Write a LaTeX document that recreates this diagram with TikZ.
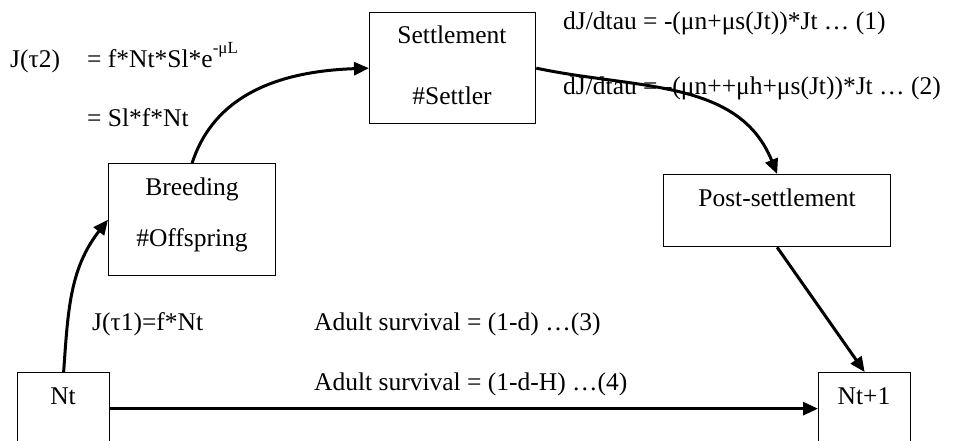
\documentclass[tikz,border=0pt]{standalone}
\usepackage{fontspec}
\setmainfont{Liberation Serif}
\usetikzlibrary{arrows.meta}
\begin{document}
\begin{tikzpicture}[x=1pt,y=-1pt,
  font=\fontsize{25.5}{30}\selectfont,
  box/.style={draw, line width=1.3pt, anchor=north west, inner sep=0pt},
  txt/.style={anchor=base west, inner sep=0pt},
  ctr/.style={anchor=base, inner sep=0pt},
  link/.style={line width=3pt, -{Triangle[length=15pt,width=13pt]}}]
\useasboundingbox (0,0) rectangle (962,441);
\clip (0,0) rectangle (962,441);
% boxes
\node[box, minimum width=92pt, minimum height=72pt] (nt) at (17,372) {};
\node[box, minimum width=92pt, minimum height=72pt] (nt1) at (818,372) {};
\node[box, minimum width=167pt, minimum height=112pt] (br) at (108,163) {};
\node[box, minimum width=166pt, minimum height=111pt] (se) at (369,12) {};
\node[box, minimum width=227pt, minimum height=72pt] (po) at (663,174) {};
% box texts
\node[ctr] (tnt) at (63,404) {Nt};
\node[ctr] (tnt1) at (864,404) {Nt+1};
\node[ctr] (tbr1) at (192,196) {Breeding};
\node[ctr] (tbr2) at (192,247) {\#Offspring};
\node[ctr] (tse1) at (452,44) {Settlement};
\node[ctr] (tse2) at (452,105) {\#Settler};
\node[ctr] (tpo) at (777,207) {Post-settlement};
% equations
\node[txt] (j2) at (10,68) {J(τ2)};
\node[txt] (j2a) at (87,68) {= f*Nt*Sl*e\raisebox{0.55em}{\fontsize{17}{17}\selectfont -μL}};
\node[txt] (j2b) at (87,127) {= Sl*f*Nt};
\node[txt] (dj1) at (563,30) {dJ/dtau = -(μn+μs(Jt))*Jt … (1)};
\node[txt] (dj2) at (563,95) {dJ/dtau = -(μn++μh+μs(Jt))*Jt … (2)};
\node[txt] (j1) at (92,330) {J(τ1)=f*Nt};
\node[txt] (as3) at (314,330) {Adult survival = (1-d) …(3)};
\node[txt] (as4) at (314,390) {Adult survival = (1-d-H) …(4)};
% connectors
\draw[link] (nt.north) to[out=86,in=232] (br.west);
\draw[link] (br.north) to[out=72,in=182] (se.west);
\draw[link] (se.east) to[out=-12,in=112] (po.north);
\draw[link] (po.south) -- (nt1.north);
\draw[link] (nt.east) -- (nt1.west);
\end{tikzpicture}
\end{document}
